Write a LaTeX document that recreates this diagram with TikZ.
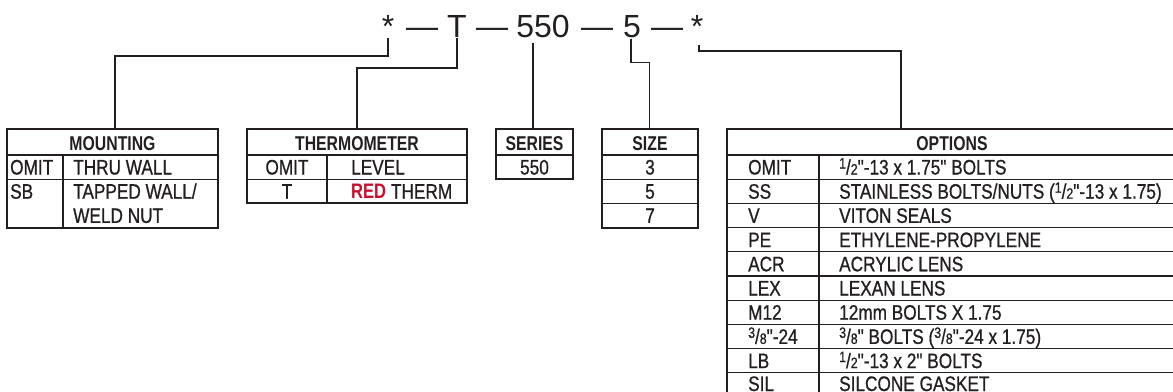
\documentclass[tikz,border=0pt]{standalone}
\usepackage{fontspec}
\setmainfont{Liberation Sans}
\newfontfamily\condfont{Liberation Sans}[FakeStretch=0.82, UprightFeatures={FakeBold=0.8}]
\newfontfamily\headfont{Liberation Sans}[FakeStretch=0.79]
\usepackage{tikz}
\definecolor{Ink}{RGB}{35, 31, 32}
\definecolor{Crimson}{RGB}{200, 16, 46}
\newcommand{\cellfont}{\condfont\fontsize{21}{24}\selectfont}
\newcommand{\titlefont}{\headfont\bfseries\fontsize{20}{24}\selectfont}
\newcommand{\partfont}{\fontsize{32}{36}\selectfont}
\newcommand{\frc}[2]{\raisebox{6pt}{\fontsize{15}{15}\selectfont #1}/{\fontsize{15}{15}\selectfont #2}}

\begin{document}
\begin{tikzpicture}[x=1pt, y=1pt,
    every node/.style={inner sep=0pt, text=Ink},
    frame/.style={draw=Ink, line width=2pt},
    rule/.style={draw=Ink, line width=1.2pt},
    link/.style={draw=Ink, line width=1.5pt},
    cell/.style={anchor=base west, font=\cellfont},
    mid/.style={anchor=base, font=\cellfont},
    head/.style={anchor=base, font=\titlefont},
    part/.style={anchor=base, font=\partfont}]

\useasboundingbox (0,0) rectangle (1173,-391);

% Part number
\node[part] (s1) at (388,-37) {*};
\node[part] (d1) at (422,-37) {\textemdash};
\node[part] (pT) at (457,-37) {T};
\node[part] (d2) at (492,-37) {\textemdash};
\node[part] (p550) at (543,-37) {550};
\node[part] (d3) at (597,-37) {\textemdash};
\node[part] (p5) at (632,-37) {5};
\node[part] (d4) at (667,-37) {\textemdash};
\node[part] (s2) at (697,-37) {*};

% Table 1: Mounting
\begin{scope}[shift={(7,-129)}]
    \draw[rule] (0,-26) -- (211,-26);
    \draw[rule] (0,-50.2) -- (211,-50.2);
    \draw[rule] (56,-26) -- (56,-98.6);
    \draw[frame] (0,0) rectangle (211,-98.6);
    \coordinate (mnt-top) at (108,0);
    \node[head] (mnt-h) at (105.5,-21) {MOUNTING};
    \node[cell] (mnt-c1) at (3,-45.5) {OMIT};
    \node[cell] (mnt-d1) at (66,-45.5) {THRU WALL};
    \node[cell] (mnt-c2) at (3,-69.7) {SB};
    \node[cell] (mnt-d2) at (66,-69.7) {TAPPED WALL/};
    \node[cell] (mnt-d3) at (66,-93.9) {WELD NUT};
\end{scope}

% Table 2: Thermometer
\begin{scope}[shift={(247,-129)}]
    \draw[rule] (0,-26) -- (220,-26);
    \draw[rule] (0,-50.2) -- (220,-50.2);
    \draw[rule] (80,-26) -- (80,-74.4);
    \draw[frame] (0,0) rectangle (220,-74.4);
    \coordinate (thm-top) at (110,0);
    \node[head] (thm-h) at (110,-21) {THERMOMETER};
    \node[mid] (thm-c1) at (40,-45.5) {OMIT};
    \node[cell] (thm-d1) at (104,-45.5) {LEVEL};
    \node[mid] (thm-c2) at (40,-69.7) {T};
    \node[cell] (thm-d2) at (104,-69.7) {\textcolor{Crimson}{\headfont\bfseries RED} THERM};
\end{scope}

% Table 3: Series
\begin{scope}[shift={(496,-129)}]
    \draw[rule] (0,-26) -- (77,-26);
    \draw[frame] (0,0) rectangle (77,-50.2);
    \coordinate (ser-top) at (37,0);
    \node[head] (ser-h) at (38.5,-21) {SERIES};
    \node[mid] (ser-c1) at (38.5,-45.5) {550};
\end{scope}

% Table 4: Size
\begin{scope}[shift={(602,-129)}]
    \draw[rule] (0,-26) -- (96,-26);
    \draw[rule] (0,-50.2) -- (96,-50.2);
    \draw[rule] (0,-74.4) -- (96,-74.4);
    \draw[frame] (0,0) rectangle (96,-98.6);
    \coordinate (siz-top) at (47.5,0);
    \node[head] (siz-h) at (48,-21) {SIZE};
    \node[mid] (siz-c1) at (48,-45.5) {3};
    \node[mid] (siz-c2) at (48,-69.7) {5};
    \node[mid] (siz-c3) at (48,-93.9) {7};
\end{scope}

% Table 5: Options
\begin{scope}[shift={(727,-129)}]
    \draw[rule] (0,-26) -- (450,-26);
    \draw[rule] (0,-50.2) -- (450,-50.2);
    \draw[rule] (0,-74.4) -- (450,-74.4);
    \draw[rule] (0,-98.6) -- (450,-98.6);
    \draw[rule] (0,-122.8) -- (450,-122.8);
    \draw[rule] (0,-147) -- (450,-147);
    \draw[rule] (0,-171.2) -- (450,-171.2);
    \draw[rule] (0,-195.4) -- (450,-195.4);
    \draw[rule] (0,-219.6) -- (450,-219.6);
    \draw[rule] (0,-243.8) -- (450,-243.8);
    \draw[rule] (92,-26) -- (92,-268);
    \draw[frame] (0,0) rectangle (450,-268);
    \coordinate (opt-top) at (174,0);
    \node[head] (opt-h) at (225,-21) {OPTIONS};
    \node[cell] (opt-c1) at (21,-45.5) {OMIT};
    \node[cell] (opt-d1) at (112,-45.5) {\frc{1}{2}"-13 x 1.75" BOLTS};
    \node[cell] (opt-c2) at (21,-69.7) {SS};
    \node[cell] (opt-d2) at (112,-69.7) {STAINLESS BOLTS/NUTS (\frc{1}{2}"-13 x 1.75)};
    \node[cell] (opt-c3) at (21,-93.9) {V};
    \node[cell] (opt-d3) at (112,-93.9) {VITON SEALS};
    \node[cell] (opt-c4) at (21,-118.1) {PE};
    \node[cell] (opt-d4) at (112,-118.1) {ETHYLENE-PROPYLENE};
    \node[cell] (opt-c5) at (21,-142.3) {ACR};
    \node[cell] (opt-d5) at (112,-142.3) {ACRYLIC LENS};
    \node[cell] (opt-c6) at (21,-166.5) {LEX};
    \node[cell] (opt-d6) at (112,-166.5) {LEXAN LENS};
    \node[cell] (opt-c7) at (21,-190.7) {M12};
    \node[cell] (opt-d7) at (112,-190.7) {12mm BOLTS X 1.75};
    \node[cell] (opt-c8) at (21,-214.9) {\frc{3}{8}"-24};
    \node[cell] (opt-d8) at (112,-214.9) {\frc{3}{8}" BOLTS (\frc{3}{8}"-24 x 1.75)};
    \node[cell] (opt-c9) at (21,-239.1) {LB};
    \node[cell] (opt-d9) at (112,-239.1) {\frc{1}{2}"-13 x 2" BOLTS};
    \node[cell] (opt-c10) at (21,-262) {SIL};
    \node[cell] (opt-d10) at (112,-262) {SILCONE GASKET};
\end{scope}

% Connectors
\draw[link] ([yshift=-1pt]s1.south) -- ++(0,-18) -| (mnt-top);
\draw[link] ([yshift=-1pt]pT.south) -- ++(0,-30) -| (thm-top);
\draw[link] ([xshift=-10pt,yshift=-5pt]p550.south) -- (ser-top);
\draw[link] ([xshift=-1pt,yshift=-1pt]p5.south) -- ++(0,-24) -| (siz-top);
\draw[link] ([xshift=2pt,yshift=-8pt]s2.south) -- ++(0,-6) -| (opt-top);

\end{tikzpicture}
\end{document}
